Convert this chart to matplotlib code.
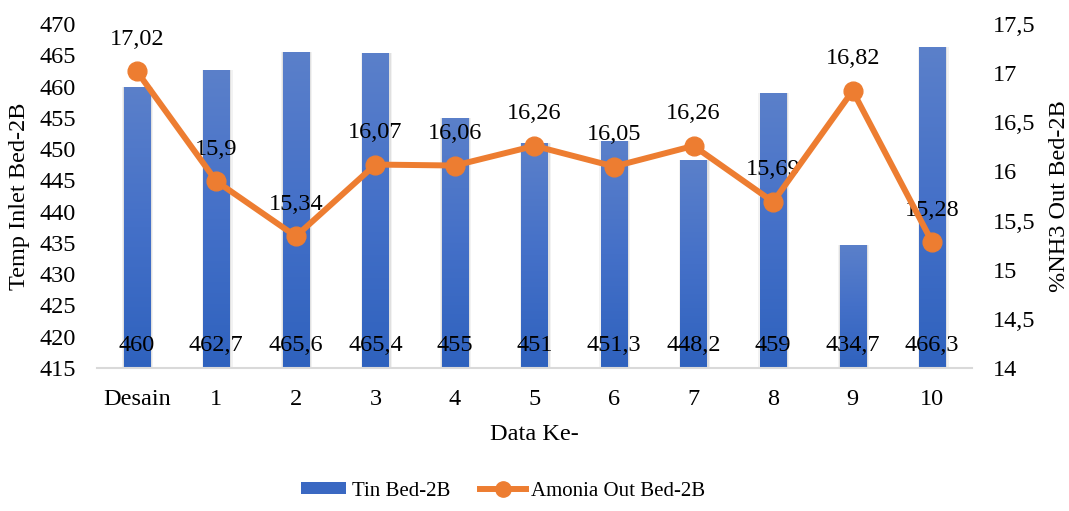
import matplotlib
matplotlib.use("Agg")
import matplotlib.pyplot as plt
import numpy as np
from matplotlib.colors import LinearSegmentedColormap
from matplotlib.patches import Patch
from matplotlib.lines import Line2D

plt.rcParams['font.family'] = ['Liberation Serif', 'DejaVu Serif']

categories = ["Desain", "1", "2", "3", "4", "5", "6", "7", "8", "9", "10"]
tin_bed = [460, 462.7, 465.6, 465.4, 455, 451, 451.3, 448.2, 459, 434.7, 466.3]
amonia_out = [17.02, 15.9, 15.34, 16.07, 16.06, 16.26, 16.05, 16.26, 15.69, 16.82, 15.28]
left_ticks = [415, 420, 425, 430, 435, 440, 445, 450, 455, 460, 465, 470]
right_ticks = [14, 14.5, 15, 15.5, 16, 16.5, 17, 17.5]

FS = 17.5


def comma(v):
    return f"{v:g}".replace(".", ",")


fig = plt.figure(figsize=(10.69, 5.11), dpi=100)
ax = fig.add_axes([97 / 1069, 1 - 368 / 511, 875 / 1069, 344 / 511])
ax2 = ax.twinx()

x = np.arange(len(categories))
width = 0.33
ax.set_xlim(-0.5, len(categories) - 0.5)
ax.set_ylim(415, 470)

# soft shadow around each bar
for dw, a in [(0.06, 0.05), (0.03, 0.07)]:
    ax.bar(x + 0.01, np.array(tin_bed) - 415, width + dw, bottom=415,
           color="#000000", alpha=a, zorder=1, linewidth=0)
bars = ax.bar(x, np.array(tin_bed) - 415, width, bottom=415,
              color="none", zorder=2, linewidth=0)

# vertical gradient fill for the bars
cmap = LinearSegmentedColormap.from_list("blue", ["#2f62be", "#4470c8", "#5b80ca"])
grad = np.linspace(0, 1, 256).reshape(-1, 1)
for b in bars:
    x0, y0 = b.get_x(), b.get_y()
    w, h = b.get_width(), b.get_height()
    im = ax.imshow(grad, extent=[x0, x0 + w, y0, y0 + h], origin="lower",
                   cmap=cmap, aspect="auto", zorder=2)
    im.set_clip_path(b)

for xi, v in zip(x, tin_bed):
    ax.text(xi, 418.6, comma(v), ha="center", va="center", fontsize=FS,
            color="#000000", zorder=5)

ax.set_yticks(left_ticks)
ax.set_yticklabels([str(t) for t in left_ticks])
ax.set_xticks(x)
ax.set_xticklabels(categories)
ax.tick_params(axis="both", length=0, labelsize=FS, colors="#000000")
ax.tick_params(axis="x", pad=15)
ax.tick_params(axis="y", pad=15)
for s in ["top", "right", "left"]:
    ax.spines[s].set_visible(False)
ax.spines["bottom"].set_color("#d9d9d9")
ax.spines["bottom"].set_linewidth(1.5)
ax.set_ylabel("Temp Inlet Bed-2B", fontsize=FS, labelpad=7)
ax.set_xlabel("Data Ke-", fontsize=FS, labelpad=10)

ax2.set_ylim(14, 17.5)
ax2.plot(x, amonia_out, color="#ed7d31", linewidth=4.3, marker="o",
         markersize=13.5, zorder=4, solid_capstyle="round")
for xi, v in zip(x, amonia_out):
    ax2.annotate(comma(v), (xi, v), xytext=(0, 23), textcoords="offset points",
                 ha="center", va="center", fontsize=FS, color="#000000")
ax2.set_yticks(right_ticks)
ax2.set_yticklabels([comma(t) for t in right_ticks])
ax2.tick_params(axis="y", length=0, labelsize=FS, pad=15)
for s in ["top", "right", "left", "bottom"]:
    ax2.spines[s].set_visible(False)
ax2.set_ylabel("%NH3 Out Bed-2B", fontsize=FS, labelpad=10)
ax.set_zorder(1)
ax2.set_zorder(2)
ax2.patch.set_visible(False)

handles = [Patch(facecolor="#3a68c2", edgecolor="none"),
           Line2D([0], [0], color="#ed7d31", linewidth=4.3, marker="o", markersize=11)]
fig.legend(handles, ["Tin Bed-2B", "Amonia Out Bed-2B"], loc="center",
           bbox_to_anchor=(503 / 1069, 1 - 491 / 511), ncol=2, frameon=False,
           fontsize=15, handlelength=2.2, handleheight=0.55, columnspacing=1.45,
           handletextpad=0.25)

fig.savefig("out.png", dpi=100)
